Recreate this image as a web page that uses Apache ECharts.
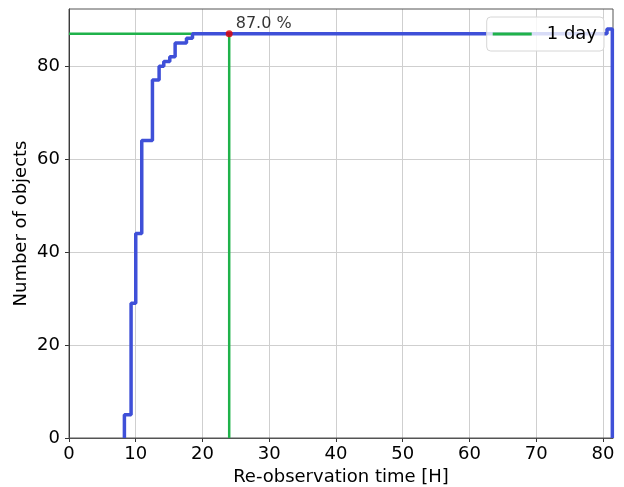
<!DOCTYPE html>
<html>
<head>
<meta charset="utf-8">
<script src="https://cdn.jsdelivr.net/npm/echarts@6/dist/echarts.min.js"></script>
<style>
  html, body { margin: 0; padding: 0; background: #fff; }
  #chart { width: 624px; height: 487px; }
</style>
</head>
<body>
<div id="chart"></div>
<script>
'use strict';

// cumulative step curve: x where each step starts, and count reached there
var stepTimes  = [8.3, 8.3, 9.3, 10.0, 10.9, 12.5, 13.5, 14.2, 15.1, 15.9, 17.6, 18.5, 80.6, 81.4];
var stepCounts = [0,   5,   29,  44,   64,   77,   80,   81,   82,   85,   86,   87,   88,   0];

var thresholdHours = 24;   // "1 day"
var thresholdCount = 87;
var totalObjects = 100;

var xTicks = [0, 10, 20, 30, 40, 50, 60, 70, 80];
var yTicks = [0, 20, 40, 60, 80];

var font = 'DejaVu Sans';
var xMax = 81.5, yMax = 92.3;

var curve = stepTimes.map(function(t, i) { return [t, stepCounts[i]]; });
var pct = (thresholdCount / totalObjects * 100).toFixed(1) + ' %';

var myChart = echarts.init(document.getElementById('chart'));
myChart.setOption({
    animation: false,
    backgroundColor: '#fff',
    grid: { left: 69, right: 11, top: 9, bottom: 49, containLabel: false, outerBoundsMode: 'none' },
    legend: {
        right: 20, top: 17,
        data: ['1 day'],
        icon: 'rect',
        itemWidth: 39, itemHeight: 3,
        padding: [8, 7, 8, 6],
        backgroundColor: 'rgba(255,255,255,0.8)',
        borderColor: '#d6d6d6', borderWidth: 1, borderRadius: 4,
        textStyle: { fontFamily: font, fontSize: 18, color: '#000', padding: [0, 0, 0, 10] }
    },
    xAxis: {
        type: 'value', min: 0, max: xMax,
        name: 'Re-observation time [H]', nameLocation: 'middle', nameGap: 30,
        nameMoveOverlap: false,
        nameTextStyle: { fontFamily: font, fontSize: 18, color: '#000' },
        axisLine: { onZero: false, lineStyle: { color: '#555', width: 1 } },
        axisTick: { length: 4, customValues: xTicks, lineStyle: { color: '#333' } },
        axisLabel: { fontFamily: font, fontSize: 18, color: '#000', margin: 7, customValues: xTicks },
        splitLine: { show: true, lineStyle: { color: '#cfcfcf', width: 1 } }
    },
    yAxis: {
        type: 'value', min: 0, max: yMax,
        name: 'Number of objects', nameLocation: 'middle', nameGap: 39,
        nameMoveOverlap: false,
        nameTextStyle: { fontFamily: font, fontSize: 18, color: '#000' },
        axisLine: { show: true, onZero: false, lineStyle: { color: '#222', width: 1 } },
        axisTick: { show: true, length: 4, customValues: yTicks, lineStyle: { color: '#333' } },
        axisLabel: { fontFamily: font, fontSize: 18, color: '#000', margin: 9, customValues: yTicks },
        splitLine: { show: true, lineStyle: { color: '#cfcfcf', width: 1 } }
    },
    series: [
        {
            name: 'frame', type: 'line', data: [], silent: true,
            markArea: {
                silent: true,
                itemStyle: { color: 'rgba(0,0,0,0)', borderColor: '#555', borderWidth: 1 },
                data: [[{ coord: [0, 0] }, { coord: [xMax, yMax] }]]
            }
        },
        {
            name: 'objects', type: 'line', step: 'end',
            data: curve, showSymbol: false, z: 3,
            lineStyle: { color: '#3f50d8', width: 3.5 }
        },
        {
            name: '1 day', type: 'line',
            data: [[0, thresholdCount], [thresholdHours, thresholdCount], [thresholdHours, 0]],
            showSymbol: false, z: 2,
            itemStyle: { color: '#1fb24a' },
            lineStyle: { color: '#1fb24a', width: 2.5 }
        },
        {
            name: 'point', type: 'scatter', z: 4,
            data: [[thresholdHours, thresholdCount]],
            symbolSize: 7,
            itemStyle: { color: '#e00000' },
            label: {
                show: true, formatter: pct, position: [10, -14],
                fontFamily: font, fontSize: 16, color: '#000',
                textBorderWidth: 0
            }
        }
    ]
});
</script>
</body>
</html>
